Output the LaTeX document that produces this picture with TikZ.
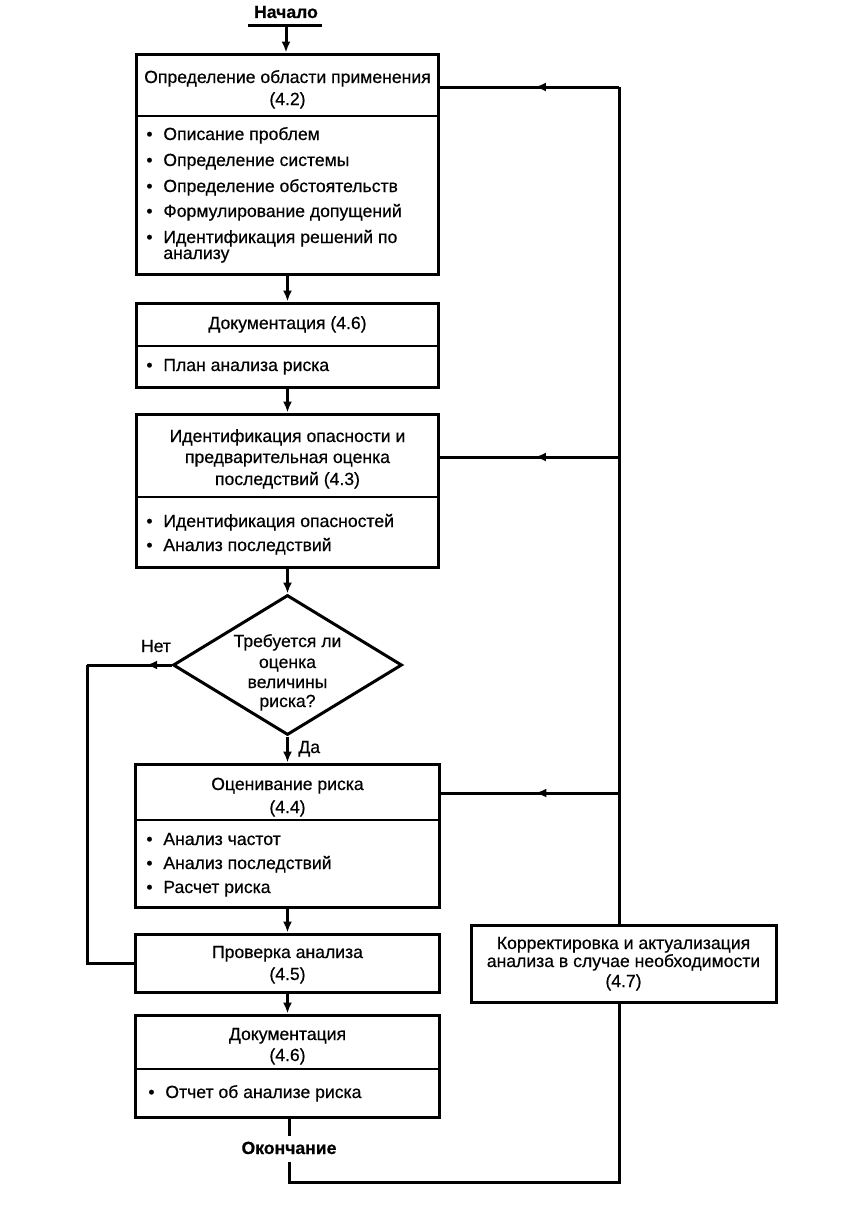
\documentclass[tikz,border=0pt]{standalone}
\usepackage{fontspec}
\setmainfont[FakeBold=0.5]{Liberation Sans}
\newfontfamily\boldlab[FakeBold=0.6]{Liberation Sans Bold}
\usetikzlibrary{arrows.meta,shapes.geometric,decorations.markings}
\begin{document}
\begin{tikzpicture}[x=0.5pt,y=-0.5pt,
  box/.style={draw, line width=1.5pt, inner sep=0pt, fill=white},
  divline/.style={line width=1pt},
  ln/.style={line width=1.5pt},
  arr/.style={line width=1.5pt, -{Latex[length=5.5pt,width=4.5pt]}},
  midarrow/.style={line width=1.5pt, postaction={decorate},
    decoration={markings, mark=at position #1 with {\arrow{Latex[length=5.5pt,width=4.5pt]}}}},
  txt/.style={font=\fontsize{8.8}{11}\selectfont, inner sep=0pt, anchor=base},
  itm/.style={txt, anchor=base west},
  bld/.style={font=\fontsize{8.8}{11}\selectfont\boldlab, inner sep=0pt, anchor=base}]
\useasboundingbox (0,0) rectangle (847,1210);

% ---------- spine on the right (drawn first, box 7 covers it)
\coordinate (e1) at (289,1136);
\coordinate (e2) at (289,1162);
\coordinate (e3) at (289,1182);
\coordinate (r0) at (619,1182);
\coordinate (rt) at (619,87);
\coordinate (r3) at (619,457);
\coordinate (r4) at (619,793);

% ---------- boxes
\node[box, minimum width=151pt, minimum height=110pt] (b1) at (287.5,164) {};
\node[box, minimum width=151pt, minimum height=42pt] (b2) at (287.5,345) {};
\node[box, minimum width=151pt, minimum height=76.5pt] (b3) at (287.5,490.5) {};
\node[draw, diamond, line width=1.5pt, inner sep=0pt, minimum width=114.5pt, minimum height=70pt] (dia) at (287.5,665) {};
\node[box, minimum width=152pt, minimum height=71.5pt] (b4) at (287.5,835.5) {};
\node[box, minimum width=152pt, minimum height=29pt] (b5) at (287.5,963) {};
\node[box, minimum width=152pt, minimum height=51pt] (b6) at (287.5,1066) {};

% dividers
\draw[divline] (b1.west |- 0,116) -- (b1.east |- 0,116);
\draw[divline] (b2.west |- 0,346) -- (b2.east |- 0,346);
\draw[divline] (b3.west |- 0,497) -- (b3.east |- 0,497);
\draw[divline] (b4.west |- 0,820) -- (b4.east |- 0,820);
\draw[divline] (b6.west |- 0,1069) -- (b6.east |- 0,1069);

% ---------- start
\node[bld] (start) at (286,18) {Начало};
\coordinate (sL) at (248,25);
\coordinate (sR) at (322,25);
\coordinate (sU) at (286,25);
\draw[ln] (sL) -- (sR);
\draw[arr] (sU) -- (sU |- b1.north);

% ---------- box 1 texts
\node[txt] (t1a) at (287.5,83) {Определение области применения};
\node[txt] (t1b) at (287.5,105) {(4.2)};
\node[itm] (i11) at (146,140) {\makebox[8.5pt][l]{•}Описание проблем};
\node[itm] (i12) at (146,166) {\makebox[8.5pt][l]{•}Определение системы};
\node[itm] (i13) at (146,192) {\makebox[8.5pt][l]{•}Определение обстоятельств};
\node[itm] (i14) at (146,217) {\makebox[8.5pt][l]{•}Формулирование допущений};
\node[itm] (i15) at (146,243) {\makebox[8.5pt][l]{•}Идентификация решений по};
\node[itm] (i16) at (163,259) {анализу};

% ---------- box 2 texts
\node[txt] (t2a) at (287.5,329) {Документация (4.6)};
\node[itm] (i21) at (146,371) {\makebox[8.5pt][l]{•}План анализа риска};

% ---------- box 3 texts
\node[txt] (t3a) at (287.5,442) {Идентификация опасности и};
\node[txt] (t3b) at (287.5,463) {предварительная оценка};
\node[txt] (t3c) at (287.5,485) {последствий (4.3)};
\node[itm] (i31) at (146,527) {\makebox[8.5pt][l]{•}Идентификация опасностей};
\node[itm] (i32) at (146,551) {\makebox[8.5pt][l]{•}Анализ последствий};

% ---------- diamond texts
\node[txt] (d1) at (287.5,647) {Требуется ли};
\node[txt] (d2) at (287.5,668) {оценка};
\node[txt] (d3) at (287.5,688) {величины};
\node[txt] (d4) at (287.5,707) {риска?};
\node[txt] (no) at (156,652) {Нет};
\node[itm] (yes) at (298,753) {Да};

% ---------- box 4 texts
\node[txt] (t4a) at (287.5,790) {Оценивание риска};
\node[txt] (t4b) at (287.5,813) {(4.4)};
\node[itm] (i41) at (146,845) {\makebox[8.5pt][l]{•}Анализ частот};
\node[itm] (i42) at (146,869) {\makebox[8.5pt][l]{•}Анализ последствий};
\node[itm] (i43) at (146,893) {\makebox[8.5pt][l]{•}Расчет риска};

% ---------- box 5 texts
\node[txt] (t5a) at (287.5,958) {Проверка анализа};
\node[txt] (t5b) at (287.5,980) {(4.5)};

% ---------- box 6 texts
\node[txt] (t6a) at (287.5,1040) {Документация};
\node[txt] (t6b) at (287.5,1061) {(4.6)};
\node[itm] (i61) at (148,1098) {\makebox[8.5pt][l]{•}Отчет об анализе риска};

% ---------- end
\node[bld] (end) at (289,1154) {Окончание};

% ---------- vertical flow
\draw[arr] (b1.south) -- (b2.north);
\draw[arr] (b2.south) -- (b3.north);
\draw[arr] (b3.south) -- (dia.north);
\draw[arr] (dia.south) -- (b4.north);
\draw[arr] (b4.south) -- (b5.north);
\draw[arr] (b5.south) -- (b6.north);
\draw[ln] (e1 |- b6.south) -- (e1);

% ---------- "no" branch
\coordinate (nL) at (87,665);
\draw[midarrow=0.3] (dia.west) -- (nL);
\draw[ln, line join=miter] (nL) |- (b5.west);

% ---------- feedback loop
\draw[ln, line join=miter] (e2) -- (e3) -- (r0) -- (rt);
\draw[midarrow=0.47] (rt) -- (rt -| b1.east);
\draw[midarrow=0.47] (r3) -- (r3 -| b3.east);
\draw[midarrow=0.47] (r4) -- (r4 -| b4.east);

% ---------- box 7
\node[box, minimum width=152.5pt, minimum height=38.5pt] (b7) at (623.5,963.5) {};
\node[txt] (t7a) at (623.5,949) {Корректировка и актуализация};
\node[txt] (t7b) at (623.5,967) {анализа в случае необходимости};
\node[txt] (t7c) at (623.5,987) {(4.7)};
\end{tikzpicture}
\end{document}
